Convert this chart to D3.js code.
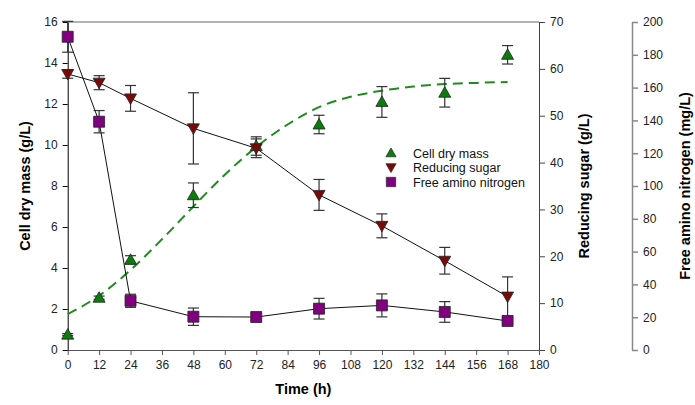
<!DOCTYPE html>
<html>
<head>
<meta charset="utf-8">
<script src="https://cdn.jsdelivr.net/npm/d3@7"></script>
<style>
  body { margin: 0; background: #fff; }
  svg text { font-family: "Liberation Sans", Arial, sans-serif; }
</style>
</head>
<body>
<svg id="chart" width="695" height="405"></svg>
<script>
// time points (h)
const times = [0, 12, 24, 48, 72, 96, 120, 144, 168];

// cell dry mass (g/L), left axis
const cdmValues = [0.75, 2.55, 4.4, 7.55, 9.95, 11.0, 12.1, 12.55, 14.4];
const cdmErrors = [0.05, 0.08, 0.2, 0.6, 0.45, 0.45, 0.75, 0.7, 0.45];

// reducing sugar (g/L), first right axis
const sugarValues = [58.9, 57.05, 53.7, 47.3, 43.05, 33.1, 26.5, 19.05, 11.4];
const sugarErrors = [0.9, 1.5, 2.75, 7.6, 2.0, 3.3, 2.55, 2.85, 4.2];

// free amino nitrogen (mg/L), second right axis
const fanValues = [191, 139.2, 30, 20.3, 20.1, 25.2, 27.2, 23.2, 17.7];
const fanErrors = [9.4, 6.8, 4, 5.3, 2, 6.3, 7, 6.3, 1.5];

// fitted growth curve for cell dry mass
const fitTimes = [0, 12, 24, 36, 48, 60, 72, 84, 96, 108, 120, 132, 144, 156, 168];
const fitValues = [1.75, 2.65, 3.9, 5.4, 7.0, 8.55, 9.9, 11.0, 11.85, 12.35, 12.65, 12.85, 12.97, 13.03, 13.07];

const xTicks = d3.range(0, 181, 12);
const leftTicks = d3.range(0, 17, 2);
const sugarTicks = d3.range(0, 71, 10);
const fanTicks = d3.range(0, 201, 20);

const legendItems = ["Cell dry mass", "Reducing sugar", "Free amino nitrogen"];

const svg = d3.select("#chart");

const x = d3.scaleLinear().domain([0, 180]).range([67.7, 539]);
const yL = d3.scaleLinear().domain([0, 16]).range([350, 22]);
const yS = d3.scaleLinear().domain([0, 70]).range([350, 22]);
const yF = d3.scaleLinear().domain([0, 200]).range([350, 22]);

// top frame line
svg.append("line")
  .attr("x1", x(0)).attr("x2", x(180))
  .attr("y1", yL(16)).attr("y2", yL(16))
  .attr("stroke", "#666").attr("stroke-width", 1);

function styleAxis(g, color, width) {
  g.select(".domain").attr("stroke", color).attr("stroke-width", width);
  g.selectAll(".tick line").attr("stroke", color).attr("stroke-width", width);
  g.selectAll(".tick text").attr("fill", "#222").style("font-size", "12px");
}

// bottom axis
const gx = svg.append("g")
  .attr("transform", `translate(0,${yL(0)})`)
  .call(d3.axisBottom(x).tickValues(xTicks).tickSize(5).tickSizeOuter(0).tickPadding(5));
styleAxis(gx, "#555", 1);

// left axis
const gl = svg.append("g")
  .attr("transform", `translate(${x(0)},0)`)
  .call(d3.axisLeft(yL).tickValues(leftTicks).tickSize(5).tickSizeOuter(0).tickPadding(5));
styleAxis(gl, "#000", 1);

// reducing sugar axis
const gs = svg.append("g")
  .attr("transform", `translate(${x(180)},0)`)
  .call(d3.axisRight(yS).tickValues(sugarTicks).tickSize(6).tickSizeOuter(0).tickPadding(5));
styleAxis(gs, "#444", 1);

// free amino nitrogen axis
const gf = svg.append("g")
  .attr("transform", "translate(632,0)")
  .call(d3.axisRight(yF).tickValues(fanTicks).tickSize(6).tickSizeOuter(0).tickPadding(5));
styleAxis(gf, "#888", 1.5);

// axis titles
const midY = (yL(0) + yL(16)) / 2;
const titles = [
  { text: "Cell dry mass (g/L)", x: 30 },
  { text: "Reducing sugar (g/L)", x: 589 },
  { text: "Free amino nitrogen (mg/L)", x: 690 }
];
titles.forEach(t => {
  svg.append("text")
    .attr("transform", `translate(${t.x},${midY}) rotate(-90)`)
    .attr("text-anchor", "middle")
    .style("font-size", "14.5px").style("font-weight", "bold")
    .text(t.text);
});

svg.append("text")
  .attr("x", (x(0) + x(180)) / 2).attr("y", 394)
  .attr("text-anchor", "middle")
  .style("font-size", "14.5px").style("font-weight", "bold")
  .text("Time (h)");

// fitted curve
const fitLine = d3.line()
  .x((d, i) => x(fitTimes[i]))
  .y(d => yL(d))
  .curve(d3.curveMonotoneX);

svg.append("path")
  .datum(fitValues)
  .attr("d", fitLine)
  .attr("fill", "none")
  .attr("stroke", "#1f8b1f")
  .attr("stroke-width", 2)
  .attr("stroke-dasharray", "10,6");

// connecting lines for sugar and FAN
function connect(values, yScale) {
  const line = d3.line().x((d, i) => x(times[i])).y(d => yScale(d));
  svg.append("path")
    .datum(values)
    .attr("d", line)
    .attr("fill", "none")
    .attr("stroke", "#111")
    .attr("stroke-width", 1);
}
connect(sugarValues, yS);
connect(fanValues, yF);

// error bars
function errorBars(values, errors, yScale) {
  const g = svg.append("g").attr("stroke", "#333").attr("stroke-width", 1.2);
  values.forEach((v, i) => {
    const cx = x(times[i]);
    const top = yScale(v + errors[i]);
    const bot = yScale(v - errors[i]);
    g.append("line").attr("x1", cx).attr("x2", cx).attr("y1", top).attr("y2", bot);
    g.append("line").attr("x1", cx - 5.5).attr("x2", cx + 5.5).attr("y1", top).attr("y2", top);
    g.append("line").attr("x1", cx - 5.5).attr("x2", cx + 5.5).attr("y1", bot).attr("y2", bot);
  });
}
errorBars(cdmValues, cdmErrors, yL);
errorBars(sugarValues, sugarErrors, yS);
errorBars(fanValues, fanErrors, yF);

// markers
const triUp = "M0,-6L6,4.5L-6,4.5Z";
const triDown = "M0,6L6,-4.5L-6,-4.5Z";
const square = "M-5.5,-5.5H5.5V5.5H-5.5Z";

function markers(values, yScale, path, fill) {
  svg.append("g").selectAll("path")
    .data(values)
    .join("path")
    .attr("d", path)
    .attr("transform", (d, i) => `translate(${x(times[i])},${yScale(d)})`)
    .attr("fill", fill)
    .attr("stroke", "#222")
    .attr("stroke-width", 0.8);
}
markers(cdmValues, yL, triUp, "#0a7d0a");
markers(sugarValues, yS, triDown, "#7a0a0a");
markers(fanValues, yF, square, "#800080");

// legend
const legendShapes = [triUp, triDown, square];
const legendColors = ["#0a7d0a", "#7a0a0a", "#800080"];
const legend = svg.append("g").attr("transform", "translate(391,153)");
legendItems.forEach((name, i) => {
  const row = legend.append("g").attr("transform", `translate(0,${i * 14.5})`);
  row.append("path")
    .attr("d", legendShapes[i])
    .attr("transform", "scale(0.85)")
    .attr("fill", legendColors[i])
    .attr("stroke", "#222").attr("stroke-width", 0.8);
  row.append("text")
    .attr("x", 22).attr("y", 4.5)
    .style("font-size", "12.5px").attr("fill", "#111")
    .text(name);
});
</script>
</body>
</html>
